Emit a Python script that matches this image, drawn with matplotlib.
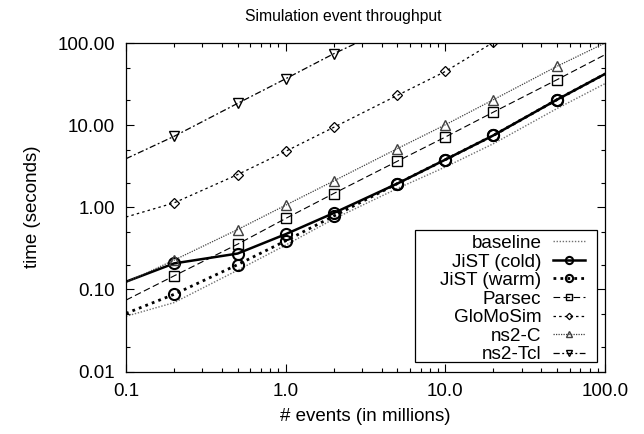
import matplotlib
matplotlib.use("Agg")
import matplotlib.pyplot as plt
from matplotlib.patches import Rectangle
from matplotlib.ticker import FixedLocator, FormatStrFormatter, NullFormatter

plt.rcParams['font.family'] = ['Liberation Sans', 'DejaVu Sans']

# events (millions)
events = [0.1, 0.2, 0.5, 1, 2, 5, 10, 20, 50, 100]

# time in seconds
baseline = [0.047, 0.069, 0.171, 0.346, 0.72, 1.69, 3.09, 5.94, 15.9, 32]
jist_cold = [0.124, 0.207, 0.273, 0.47, 0.85, 1.94, 3.8, 7.5, 20.4, 42]
jist_warm = [0.051, 0.087, 0.200, 0.39, 0.78, 1.94, 3.8, 7.5, 20.4, 42]
parsec = [0.074, 0.146, 0.355, 0.73, 1.47, 3.63, 7.16, 14.4, 35.7, 72]
glomosim = [0.76, 1.13, 2.5, 4.8, 9.4, 23, 45, 102, 250, 500]
ns2_c = [0.122, 0.227, 0.535, 1.06, 2.09, 5.17, 10.1, 20.4, 52, 100]
ns2_tcl = [3.9, 7.3, 18.4, 36.7, 74, 170, 340, 680, 1700, 3400]

fig = plt.figure(figsize=(6.44, 4.34), dpi=100)
ax = fig.add_axes([126/644, 1 - 371.5/434, 479/644, 328.5/434])

mk = slice(1, -1)
ax.plot(events, baseline, color='#707070', lw=1.0, ls=(0, (1, 1.2)), label='baseline')
ax.plot(events, jist_cold, color='k', lw=1.8, ls='-', marker='o', ms=8, mfc='none',
        mew=1.5, markevery=mk, label='JiST (cold)')
ax.plot(events, jist_warm, color='k', lw=2.0, ls=(0, (1, 1.5)), marker='o', ms=8, mfc='none',
        mew=1.5, markevery=mk, label='JiST (warm)')
ax.plot(events, parsec, color='k', lw=0.8, ls=(0, (6, 3)), marker='s', ms=7, mfc='none',
        mew=1.0, markevery=mk, label='Parsec')
ax.plot(events, glomosim, color='k', lw=0.9, ls=(0, (2, 2.5)), marker='D', ms=5, mfc='none',
        mew=0.9, markevery=mk, label='GloMoSim')
ax.plot(events, ns2_c, color='#404040', lw=0.9, ls=(0, (1, 1)), marker='^', ms=7, mfc='none',
        mew=1.0, markevery=mk, label='ns2-C')
ax.plot(events, ns2_tcl, color='k', lw=0.9, ls=(0, (5, 2, 1.5, 2)), marker='v', ms=7, mfc='none',
        mew=1.0, markevery=mk, label='ns2-Tcl')

ax.set_xscale('log')
ax.set_yscale('log')
ax.set_xlim(0.1, 100)
ax.set_ylim(0.01, 100)

ax.xaxis.set_major_locator(FixedLocator([0.1, 1, 10, 100]))
ax.xaxis.set_major_formatter(FormatStrFormatter('%.1f'))
ax.xaxis.set_minor_locator(FixedLocator([m * d for d in [0.1, 1, 10] for m in range(2, 10)]))
ax.xaxis.set_minor_formatter(NullFormatter())
ax.yaxis.set_major_locator(FixedLocator([0.01, 0.1, 1, 10, 100]))
ax.yaxis.set_major_formatter(FormatStrFormatter('%.2f'))
ax.yaxis.set_minor_locator(FixedLocator([m * d for d in [0.01, 0.1, 1, 10] for m in (2, 5)]))
ax.yaxis.set_minor_formatter(NullFormatter())

ax.tick_params(which='both', direction='in', top=True, right=True, width=0.8, labelsize=13.5)
ax.tick_params(which='major', length=6, pad=8)
ax.tick_params(which='minor', length=3)
for s in ax.spines.values():
    s.set_linewidth(0.9)

ax.set_xlabel('# events (in millions)', fontsize=13.5, labelpad=6)
ax.set_ylabel('time (seconds)', fontsize=13.5, labelpad=12)
fig.text(343/644, 1 - 16/434, 'Simulation event throughput', fontsize=11.3,
         ha='center', va='center')

# gnuplot-style key: wide box drawn separately, entries right-aligned inside it
ax.add_patch(Rectangle((0.603, 0.029), 0.38, 0.402, transform=ax.transAxes,
                       facecolor='white', edgecolor='k', lw=0.9, zorder=4))
leg = ax.legend(loc='lower right', bbox_to_anchor=(0.958, 0.025), markerfirst=False,
                fontsize=13.6, handlelength=1.7, handletextpad=0.6, labelspacing=0.07,
                borderpad=0, borderaxespad=0, frameon=False, markerscale=0.65)
leg.set_zorder(5)

fig.savefig('out.png', dpi=100)
